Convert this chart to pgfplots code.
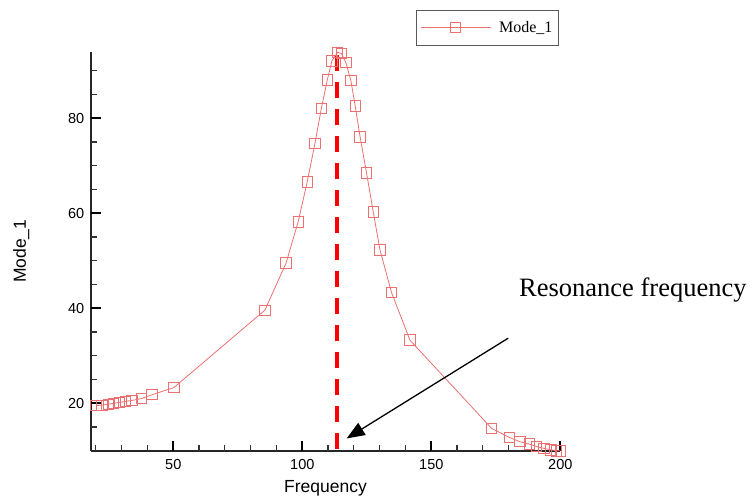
\documentclass[border=0pt]{standalone}
\usepackage{fontspec}
\setmainfont{Liberation Sans}
\newfontfamily\timesfont{Liberation Serif}
\usepackage{pgfplots}
\usepackage{pgfplotstable}
\pgfplotsset{compat=1.18}
\usetikzlibrary{arrows.meta}
\definecolor{modered}{RGB}{236,112,112}

% Mode_1 response vs. frequency
\pgfplotstableread{
f     m
20.0  19.5
22.3  19.6
24.8  19.8
26.9  20.0
29.2  20.2
31.5  20.4
34.0  20.6
37.7  21.0
41.8  21.8
50.2  23.3
85.5  39.6
93.7  49.5
98.4  58.2
101.9 66.6
104.9 74.7
107.4 82.1
109.7 88.1
111.5 92.1
113.7 93.9
115.2 93.6
116.9 91.7
118.8 88.0
120.5 82.6
122.4 76.1
124.9 68.5
127.5 60.3
130.1 52.3
134.6 43.3
141.7 33.3
173.4 14.7
180.3 12.8
184.4 11.9
188.0 11.4
190.8 10.9
193.7 10.5
196.3 10.2
198.6 10.0
200.0 10.0
}\modeone

\begin{document}
\begin{tikzpicture}
\begin{axis}[
    x=2.58pt, y=4.75pt,
    xmin=18, xmax=200,
    ymin=10, ymax=94,
    axis x line*=bottom,
    axis y line*=left,
    axis line style={-, line width=1.6pt, black!85},
    xtick={50,100,150,200},
    xticklabels={50,100,150,200},
    ytick={20,40,60,80},
    yticklabels={20,40,60,80},
    minor xtick={20,30,40,60,70,80,90,110,120,130,140,160,170,180,190},
    minor ytick={15,25,30,35,45,50,55,65,70,75,85,90},
    tick align=inside,
    major tick length=10pt,
    minor tick length=6pt,
    every major tick/.append style={line width=2pt, black},
    every minor tick/.append style={line width=1.2pt, black!80},
    xticklabel style={font=\fontsize{14.5}{18}\selectfont, yshift=-5pt},
    yticklabel style={font=\fontsize{14.5}{18}\selectfont, xshift=-3pt},
    xlabel={Frequency},
    ylabel={Mode\_1},
    xlabel style={font=\fontsize{17.5}{20}\selectfont,
        at={(axis description cs:0.5,-0.093)}, anchor=center},
    ylabel style={font=\fontsize{17.5}{20}\selectfont,
        at={(axis description cs:-0.148,0.5)}, anchor=center},
    clip=false,
    legend style={at={(axis cs:144.1,102.8)}, anchor=north west,
        draw=black!65, font=\timesfont\fontsize{16}{18}\selectfont,
        inner xsep=4pt, inner ysep=9pt, cells={anchor=west}},
    legend image code/.code={
        \draw[mark repeat=2, mark phase=2, #1]
            plot coordinates {(0pt,0pt) (35pt,0pt) (70pt,0pt)};},
]

% Striche an den Achsen (nach innen)
\pgfplotsinvokeforeach{50,100,150,200}{
    \draw[line width=2pt, black] (axis cs:#1,10) -- (axis cs:#1,12.1);}
\pgfplotsinvokeforeach{20,30,40,60,70,80,90,110,120,130,140,160,170,180,190}{
    \draw[line width=1.2pt, black!80] (axis cs:#1,10) -- (axis cs:#1,11.2);}
\pgfplotsinvokeforeach{20,40,60,80}{
    \draw[line width=2pt, black] (axis cs:18,#1) -- (axis cs:21.8,#1);}
\pgfplotsinvokeforeach{15,25,30,35,45,50,55,65,70,75,85,90}{
    \draw[line width=1.2pt, black!80] (axis cs:18,#1) -- (axis cs:20.2,#1);}

% Kurve mit Quadraten
\addplot[color=modered, line width=0.8pt, mark=square,
    mark size=5.2pt, mark options={line width=0.9pt, solid}]
    table[x=f, y=m] {\modeone};
\addlegendentry{\hspace{6pt}Mode\_1}

% Resonanzlinie (rot gestrichelt)
\addplot[red, line width=4pt, dash pattern=on 16pt off 11pt, forget plot]
    coordinates {(113.3,93.3) (113.3,10.3)};

% Pfeil und Beschriftung
\draw[-{Triangle[length=18pt,width=14pt]}, line width=1.3pt]
    (axis cs:179.8,33.7) -- (axis cs:117.2,12.6);
\node[anchor=base west, inner sep=0pt,
    font=\timesfont\fontsize{26.5}{30}\selectfont]
    at (axis cs:184,42.4) {Resonance frequency};

% Bildrahmen 754x500 (unsichtbar)
\path (axis cs:-17.17,-0.36) rectangle (axis cs:275.08,104.9);
\end{axis}
\end{tikzpicture}
\end{document}
